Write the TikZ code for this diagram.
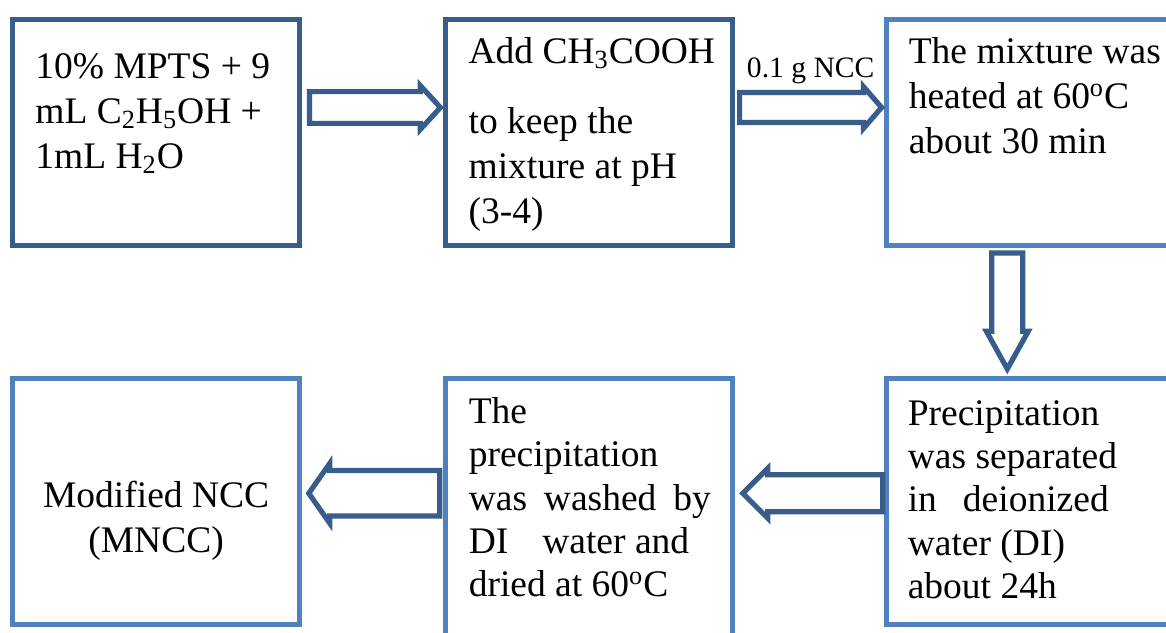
\documentclass[tikz,border=0pt]{standalone}
\usepackage{fontspec}
\setmainfont{Liberation Serif}
\usetikzlibrary{positioning,shapes.arrows}

\definecolor{darkblue}{HTML}{385D8A}
\definecolor{lightblue}{HTML}{4F81BD}

\tikzstyle{box} = [rectangle, draw=darkblue, line width=2.6pt, minimum width=143.5pt, minimum height=112.9pt, inner sep=0pt]
\tikzstyle{lightbox} = [box, draw=lightblue, line width=2.4pt]
\tikzstyle{boxtext} = [anchor=north west, inner sep=0pt, align=left, font=\fontsize{18.75pt}{22.5pt}\selectfont]
\tikzstyle{blockarrow} = [single arrow, draw=darkblue, fill=white, line width=2.6pt, inner xsep=0pt, single arrow head extend=2pt, pos=0, anchor=tail, sloped, allow upside down]

\begin{document}
\begin{tikzpicture}
    \useasboundingbox (0,0) rectangle (583pt,-316pt);
    \clip (0,0) rectangle (583pt,-316pt);
    % process steps
    \node[box, anchor=north west] (b1) at (5pt,-8.5pt) {};
    \node[box, right=70.5pt of b1] (b2) {};
    \node[lightbox, right=74.5pt of b2] (b3) {};
    \node[lightbox, below=64pt of b1, minimum height=123.1pt] (b4) {};
    \node[lightbox, below=64pt of b2, minimum height=170pt] (b5) {};
    \node[lightbox, below=64pt of b3, minimum height=123.1pt] (b6) {};
    % texts
    \node[boxtext] (t1) at ([shift={(12.5pt,-14.75pt)}]b1.north west) {\strut 10\% MPTS + 9\\ mL C\textsubscript{2}H\textsubscript{5}OH +\\ 1mL H\textsubscript{2}O};
    \node[boxtext] (t2) at ([shift={(12.5pt,-7.25pt)}]b2.north west) {\strut Add CH\textsubscript{3}COOH\\[12.5pt] to keep the\\ mixture at pH\\ (3-4)};
    \node[boxtext] (t3) at ([shift={(12pt,-7.25pt)}]b3.north west) {\strut The mixture was\\ heated at 60\textsuperscript{o}C\\ about 30 min};
    \node[boxtext, anchor=north, align=center] (t4) at ([yshift=-49.75pt]b4.north) {\strut Modified NCC\\ (MNCC)};
    \node[boxtext, font=\fontsize{18.75pt}{21.7pt}\selectfont] (t5) at ([shift={(12.5pt,-8.3pt)}]b5.north west) {\strut The\\ precipitation\\ \makebox[121pt][s]{was washed by}\\ DI\hspace{17pt}water and\\ dried at 60\textsuperscript{o}C};
    \node[boxtext, font=\fontsize{18.75pt}{21.7pt}\selectfont] (t6) at ([shift={(11.5pt,-9.3pt)}]b6.north west) {\strut Precipitation\\ was separated\\ in\hspace{13pt}deionized\\ water (DI)\\ about 24h};
    % arrows
    \path ([shift={(2.3pt,12.5pt)}]b1.east) -- ([yshift=12.5pt]b2.west)
        node[blockarrow, minimum height=65.5pt, minimum width=21.9pt, inner ysep=3.95pt, single arrow tip angle=95] (a12) {};
    \path ([shift={(0.8pt,12.5pt)}]b2.east) -- ([yshift=12.5pt]b3.west)
        node[blockarrow, minimum height=71pt, minimum width=20.9pt, inner ysep=3.7pt, single arrow tip angle=98] (a23) {}
        node[midway, anchor=base, yshift=15pt, inner sep=0pt, font=\fontsize{14.8pt}{17pt}\selectfont] (ncc) {0.1 g NCC};
    \path ([shift={(-11.5pt,-1.3pt)}]b3.south) -- ([xshift=-11.5pt]b3.south |- b6.north)
        node[blockarrow, minimum height=58pt, minimum width=20.9pt, inner ysep=4.45pt, single arrow tip angle=58] (a36) {};
    \path ([shift={(0.5pt,4pt)}]b6.west) -- ([yshift=4pt]b6.west -| b5.east)
        node[blockarrow, minimum height=70pt, minimum width=24.9pt, inner ysep=4.45pt, single arrow tip angle=90] (a65) {};
    \path ([xshift=-0.5pt]b5.west |- a65.tail) -- (b4.east |- a65.tail)
        node[blockarrow, minimum height=65.5pt, minimum width=30pt, inner ysep=4.95pt, single arrow tip angle=110] (a54) {};
\end{tikzpicture}
\end{document}
